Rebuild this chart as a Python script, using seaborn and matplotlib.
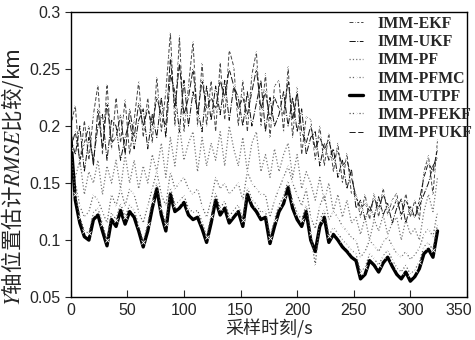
import numpy as np
import pandas as pd
import matplotlib
matplotlib.use("Agg")
import matplotlib.pyplot as plt
import matplotlib.transforms as mtransforms
import seaborn as sns

t = np.arange(0, 325, 4)

ekf = [0.200, 0.218, 0.165, 0.205, 0.170, 0.210, 0.236, 0.175, 0.237, 0.180, 0.225, 0.185, 0.223, 0.175, 0.205, 0.239,
       0.190, 0.225, 0.185, 0.243, 0.195, 0.230, 0.282, 0.200, 0.279, 0.195, 0.235, 0.274, 0.200, 0.255, 0.200, 0.240,
       0.195, 0.256, 0.205, 0.267, 0.252, 0.200, 0.240, 0.195, 0.245, 0.265, 0.200, 0.246, 0.190, 0.235, 0.240, 0.195,
       0.252, 0.190, 0.234, 0.175, 0.208, 0.206, 0.170, 0.200, 0.165, 0.194, 0.160, 0.185, 0.150, 0.176, 0.140, 0.141,
       0.120, 0.140, 0.118, 0.141, 0.120, 0.146, 0.122, 0.135, 0.141, 0.118, 0.141, 0.120, 0.135, 0.118, 0.160, 0.174,
       0.140, 0.188]
ukf = [0.190, 0.175, 0.200, 0.160, 0.190, 0.170, 0.200, 0.210, 0.170, 0.205, 0.200, 0.170, 0.190, 0.205, 0.180, 0.205,
       0.215, 0.180, 0.210, 0.190, 0.225, 0.190, 0.245, 0.230, 0.195, 0.240, 0.200, 0.230, 0.215, 0.195, 0.235, 0.205,
       0.235, 0.210, 0.240, 0.205, 0.235, 0.225, 0.200, 0.230, 0.200, 0.220, 0.240, 0.195, 0.225, 0.200, 0.210, 0.230,
       0.200, 0.225, 0.195, 0.215, 0.175, 0.190, 0.195, 0.165, 0.185, 0.170, 0.180, 0.155, 0.170, 0.145, 0.162, 0.128,
       0.135, 0.118, 0.130, 0.120, 0.138, 0.122, 0.132, 0.115, 0.128, 0.136, 0.115, 0.130, 0.120, 0.130, 0.140, 0.150,
       0.165, 0.172]
pf = [0.175, 0.155, 0.170, 0.140, 0.160, 0.150, 0.170, 0.140, 0.165, 0.150, 0.170, 0.145, 0.175, 0.150, 0.170, 0.145,
      0.165, 0.150, 0.175, 0.160, 0.185, 0.155, 0.190, 0.165, 0.200, 0.170, 0.185, 0.195, 0.160, 0.190, 0.165, 0.185,
      0.170, 0.195, 0.165, 0.200, 0.180, 0.165, 0.190, 0.160, 0.185, 0.195, 0.160, 0.175, 0.155, 0.180, 0.160, 0.175,
      0.185, 0.155, 0.175, 0.145, 0.160, 0.150, 0.135, 0.155, 0.135, 0.150, 0.125, 0.140, 0.120, 0.135, 0.115, 0.120,
      0.105, 0.120, 0.100, 0.118, 0.108, 0.122, 0.105, 0.115, 0.120, 0.100, 0.118, 0.105, 0.110, 0.100, 0.125, 0.140,
      0.125, 0.155]
pfmc = [0.170, 0.150, 0.130, 0.120, 0.125, 0.140, 0.135, 0.125, 0.115, 0.140, 0.130, 0.145, 0.130, 0.145, 0.140, 0.125,
        0.115, 0.130, 0.145, 0.160, 0.140, 0.130, 0.160, 0.145, 0.150, 0.155, 0.145, 0.140, 0.145, 0.130, 0.120, 0.135,
        0.155, 0.145, 0.150, 0.140, 0.145, 0.150, 0.135, 0.160, 0.150, 0.145, 0.140, 0.140, 0.120, 0.135, 0.145, 0.155,
        0.165, 0.150, 0.140, 0.130, 0.145, 0.120, 0.110, 0.130, 0.140, 0.118, 0.125, 0.120, 0.112, 0.108, 0.102, 0.100,
        0.085, 0.090, 0.100, 0.095, 0.090, 0.098, 0.103, 0.095, 0.088, 0.085, 0.090, 0.083, 0.087, 0.093, 0.105, 0.110,
        0.103, 0.125]
utpf = [0.190, 0.135, 0.115, 0.103, 0.100, 0.118, 0.122, 0.108, 0.095, 0.118, 0.112, 0.126, 0.114, 0.125, 0.120, 0.108,
        0.094, 0.108, 0.128, 0.145, 0.122, 0.108, 0.140, 0.125, 0.128, 0.133, 0.122, 0.118, 0.120, 0.110, 0.098, 0.115,
        0.135, 0.122, 0.128, 0.115, 0.120, 0.125, 0.112, 0.140, 0.130, 0.125, 0.118, 0.120, 0.097, 0.112, 0.125, 0.132,
        0.146, 0.128, 0.118, 0.112, 0.125, 0.100, 0.090, 0.112, 0.120, 0.098, 0.105, 0.100, 0.094, 0.090, 0.085, 0.082,
        0.066, 0.070, 0.082, 0.078, 0.072, 0.080, 0.085, 0.077, 0.070, 0.066, 0.072, 0.064, 0.068, 0.075, 0.088, 0.092,
        0.085, 0.108]
pfekf = [0.180, 0.140, 0.120, 0.108, 0.106, 0.124, 0.128, 0.114, 0.100, 0.124, 0.118, 0.132, 0.120, 0.131, 0.126, 0.113,
         0.098, 0.114, 0.134, 0.150, 0.128, 0.114, 0.146, 0.131, 0.134, 0.139, 0.128, 0.124, 0.126, 0.116, 0.103, 0.121,
         0.141, 0.128, 0.134, 0.121, 0.126, 0.131, 0.118, 0.146, 0.136, 0.131, 0.124, 0.126, 0.102, 0.118, 0.131, 0.138,
         0.152, 0.134, 0.124, 0.118, 0.131, 0.106, 0.078, 0.118, 0.126, 0.104, 0.111, 0.106, 0.100, 0.096, 0.091, 0.088,
         0.072, 0.076, 0.088, 0.084, 0.078, 0.086, 0.091, 0.083, 0.076, 0.072, 0.078, 0.070, 0.074, 0.081, 0.094, 0.098,
         0.091, 0.114]
pfukf = [0.180, 0.195, 0.170, 0.185, 0.200, 0.165, 0.215, 0.180, 0.220, 0.185, 0.190, 0.210, 0.175, 0.215, 0.190, 0.220,
         0.200, 0.215, 0.200, 0.225, 0.210, 0.200, 0.260, 0.215, 0.255, 0.210, 0.225, 0.250, 0.210, 0.240, 0.215, 0.225,
         0.215, 0.240, 0.225, 0.250, 0.235, 0.215, 0.225, 0.210, 0.230, 0.250, 0.215, 0.230, 0.205, 0.225, 0.215, 0.210,
         0.240, 0.205, 0.230, 0.195, 0.185, 0.200, 0.180, 0.190, 0.180, 0.188, 0.170, 0.178, 0.165, 0.170, 0.155, 0.138,
         0.128, 0.132, 0.125, 0.137, 0.128, 0.140, 0.130, 0.126, 0.136, 0.122, 0.135, 0.126, 0.120, 0.135, 0.155, 0.168,
         0.160, 0.180]

names = ["IMM-EKF", "IMM-UKF", "IMM-PF", "IMM-PFMC", "IMM-UTPF", "IMM-PFEKF", "IMM-PFUKF"]
series = [ekf, ukf, pf, pfmc, utpf, pfekf, pfukf]
styles = [
    dict(color="#444444", linestyle=(0, (4, 2)), marker="x", lw=0.7),
    dict(color="#111111", linestyle="-.", marker="", lw=0.7),
    dict(color="#777777", linestyle=":", marker="", lw=0.9),
    dict(color="#666666", linestyle=":", marker="x", lw=0.9),
    dict(color="black", linestyle="-", marker="", lw=2.4),
    dict(color="#555555", linestyle=":", marker="x", lw=0.9),
    dict(color="#1a1a1a", linestyle=(0, (7, 2)), marker="x", lw=0.7),
]

sns.set_style("white")
plt.rcParams["font.family"] = ["Liberation Sans", "Noto Sans CJK SC"]
plt.rcParams["mathtext.fontset"] = "stix"

fig, ax = plt.subplots(figsize=(4.75, 3.4), dpi=100)
fig.subplots_adjust(left=0.149, right=0.983, top=0.965, bottom=0.126)

for name, vals, st in zip(names, series, styles):
    df = pd.DataFrame({"t": t, "v": vals})
    sns.lineplot(data=df, x="t", y="v", ax=ax, label=name, markersize=3,
                 markeredgewidth=0.6, **st)

ax.set_xlim(0, 350)
ax.set_ylim(0.05, 0.3)
ax.set_xticks(np.arange(0, 351, 50))
ax.set_yticks([0.05, 0.1, 0.15, 0.2, 0.25, 0.3])
ax.set_yticklabels(["0.05", "0.1", "0.15", "0.2", "0.25", "0.3"])
ax.tick_params(axis="x", direction="in", length=5, labelsize=11.5, pad=4)
ax.tick_params(axis="y", direction="out", length=4, labelsize=11.5)
ax.tick_params(left=True, bottom=True)
for s in ax.spines.values():
    s.set_color("black")
    s.set_linewidth(1.0)

# last x label sits inside the figure edge
last = ax.get_xticklabels()[-1]
last.set_transform(last.get_transform() + mtransforms.ScaledTranslation(-8 / 100, 0, fig.dpi_scale_trans))

ax.set_xlabel("采样时刻/s", fontsize=13, family=["Noto Sans CJK SC"])
ax.set_ylabel("$Y$轴位置估计$RMSE$比较/km", fontsize=15.5, family=["Noto Sans CJK SC"])
ax.xaxis.set_label_coords(0.5, -0.078)
ax.yaxis.set_label_coords(-0.112, 0.42)

leg = ax.legend(loc="upper left", bbox_to_anchor=(341 / 475, 1 - 8 / 340),
                bbox_transform=fig.transFigure, frameon=False, borderpad=0,
                handlelength=0.9, handletextpad=0.9, labelspacing=0.14,
                prop={"family": "Liberation Serif", "weight": "bold", "size": 11.4})

fig.savefig("out.png", dpi=100)
